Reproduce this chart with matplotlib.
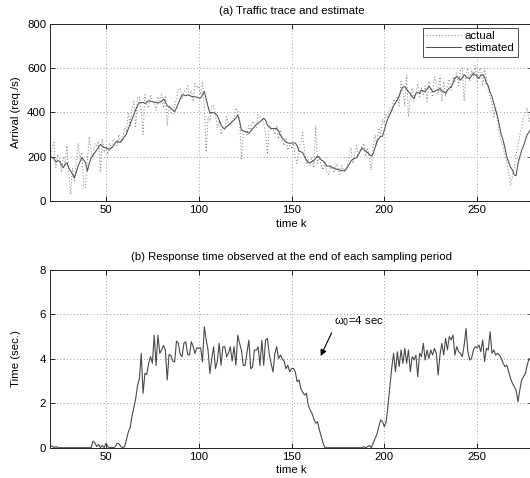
import numpy as np
import matplotlib
matplotlib.use("Agg")
import matplotlib.pyplot as plt

plt.rcParams['font.family'] = ['Liberation Sans', 'DejaVu Sans']
plt.rcParams['font.size'] = 8.2

# ---------------- data ----------------
k_start = 20
k_end = 280

actual = [
    180, 240, 265, 150, 210, 190, 130, 200, 160, 250,   # 20-29
    120, 30, 150, 90, 175, 260, 190, 220, 70, 60,       # 30-39
    180, 290, 220, 200, 260, 250, 270, 130, 280, 220,   # 40-49
    250, 210, 260, 240, 280, 270, 250, 300, 260, 290,   # 50-59
    330, 310, 400, 340, 420, 450, 330, 470, 470, 400,   # 60-69
    300, 480, 430, 420, 480, 450, 440, 410, 470, 450,   # 70-79
    480, 420, 470, 340, 430, 400, 390, 430, 460, 500,   # 80-89
    510, 460, 490, 500, 520, 470, 500, 450, 530, 510,   # 90-99
    520, 480, 540, 420, 220, 380, 360, 430, 430, 390,   # 100-109
    330, 360, 300, 330, 320, 380, 340, 340, 360, 380,   # 110-119
    420, 410, 370, 190, 300, 320, 300, 340, 320, 360,   # 120-129
    350, 330, 390, 380, 370, 350, 300, 210, 340, 320,   # 130-139
    330, 300, 340, 280, 320, 270, 250, 280, 230, 250,   # 140-149
    240, 260, 200, 170, 240, 260, 310, 220, 170, 190,   # 150-159
    160, 200, 150, 340, 170, 200, 160, 140, 180, 130,   # 160-169
    120, 160, 140, 130, 170, 150, 120, 160, 140, 130,   # 170-179
    160, 190, 240, 170, 210, 250, 200, 230, 250, 260,   # 180-189
    200, 240, 190, 140, 250, 300, 250, 330, 300, 370,   # 190-199
    350, 390, 380, 420, 410, 460, 440, 470, 430, 540,   # 200-209
    500, 430, 570, 380, 470, 510, 450, 480, 530, 470,   # 210-219
    510, 480, 520, 450, 540, 500, 470, 560, 530, 480,   # 220-229
    560, 450, 540, 470, 520, 550, 500, 560, 540, 580,   # 230-239
    520, 590, 600, 450, 570, 600, 540, 590, 560, 610,   # 240-249
    540, 590, 600, 520, 600, 560, 500, 470, 440, 380,   # 250-259
    420, 360, 300, 270, 250, 200, 180, 130, 70, 110,    # 260-269
    150, 210, 250, 300, 330, 380, 400, 420, 360, 390,   # 270-279
    380,                                                # 280
]

estimated = [
    202, 196, 190, 176, 182, 180, 165, 150, 165, 172,   # 20-29
    148, 135, 120, 105, 130, 158, 178, 195, 185, 172,   # 30-39
    135, 170, 195, 208, 218, 230, 241, 256, 248, 241,   # 40-49
    240, 236, 233, 240, 248, 262, 271, 264, 268, 279,   # 50-59
    290, 301, 325, 347, 370, 392, 412, 430, 445, 443,   # 60-69
    445, 440, 445, 453, 450, 448, 446, 445, 442, 445,   # 70-79
    450, 460, 448, 430, 425, 418, 410, 403, 420, 441,   # 80-89
    460, 479, 478, 475, 479, 476, 472, 471, 470, 468,   # 90-99
    465, 464, 480, 494, 460, 426, 395, 400, 398, 395,   # 100-109
    385, 365, 345, 330, 327, 335, 342, 350, 358, 365,   # 110-119
    375, 388, 360, 320, 316, 312, 310, 305, 315, 325,   # 120-129
    335, 345, 352, 358, 365, 373, 365, 342, 335, 327,   # 130-139
    327, 327, 327, 315, 297, 285, 275, 267, 262, 260,   # 140-149
    262, 262, 262, 250, 225, 222, 218, 200, 185, 173,   # 150-159
    173, 178, 181, 192, 203, 195, 185, 181, 170, 158,   # 160-169
    158, 155, 151, 148, 144, 142, 140, 138, 136, 140,   # 170-179
    151, 165, 180, 188, 192, 196, 210, 225, 240, 232,   # 180-189
    225, 218, 210, 203, 215, 240, 270, 280, 292, 292,   # 190-199
    320, 350, 373, 390, 410, 430, 445, 455, 475, 499,   # 200-209
    514, 516, 505, 493, 484, 470, 463, 486, 490, 486,   # 210-219
    501, 496, 494, 505, 517, 508, 494, 493, 500, 501,   # 220-229
    508, 495, 493, 486, 500, 509, 516, 530, 555, 561,   # 230-239
    555, 546, 555, 570, 560, 555, 553, 565, 576, 570,   # 240-249
    562, 553, 568, 570, 560, 531, 520, 490, 471, 440,   # 250-259
    410, 380, 340, 300, 274, 240, 198, 175, 153, 140,   # 260-269
    117, 115, 168, 200, 229, 250, 274, 300, 312, 327,   # 270-279
    340,                                                # 280
]

response = [
    0.05, 0.08, 0.0, 0.05, 0.0, 0.0, 0.0, 0.0, 0.0, 0.0,          # 20-29
    0.0, 0.0, 0.0, 0.0, 0.0, 0.0, 0.0, 0.0, 0.0, 0.0,             # 30-39
    0.0, 0.0, 0.0, 0.3, 0.22, 0.05, 0.15, 0.0, 0.1, 0.0,          # 40-49
    0.2, 0.05, 0.0, 0.02, 0.0, 0.05, 0.2, 0.18, 0.05, 0.0,        # 50-59
    0.05, 0.35, 0.7, 0.9, 1.4, 1.8, 2.2, 2.8, 3.1, 4.25,          # 60-69
    2.45, 3.35, 3.3, 3.8, 4.1, 3.8, 5.07, 3.7, 5.07, 4.25,        # 70-79
    4.4, 4.6, 4.4, 3.05, 4.2, 4.15, 3.9, 3.86, 4.8, 4.7,          # 80-89
    4.2, 4.1, 4.7, 4.77, 4.2, 4.17, 4.77, 4.55, 4.24, 4.5,        # 90-99
    4.47, 4.5, 3.86, 5.44, 4.85, 4.4, 3.34, 4.0, 4.54, 3.56,      # 100-109
    3.9, 4.7, 3.71, 4.54, 4.55, 4.09, 4.25, 4.54, 3.9, 4.55,      # 110-119
    3.71, 5.07, 4.7, 4.39, 3.7, 3.71, 4.3, 4.84, 3.55, 3.64,      # 120-129
    4.4, 4.39, 4.54, 3.7, 4.84, 3.71, 4.85, 4.92, 4.2, 3.79,      # 130-139
    3.41, 4.24, 4.55, 4.01, 4.17, 4.0, 3.9, 3.56, 3.71, 3.42,     # 140-149
    3.56, 3.57, 3.42, 2.97, 3.05, 2.67, 2.5, 2.37, 2.45, 1.92,    # 150-159
    1.7, 1.55, 1.3, 1.1, 1.17, 0.8, 0.5, 0.2, 0.0, 0.0,           # 160-169
    0.0, 0.0, 0.0, 0.0, 0.0, 0.0, 0.0, 0.0, 0.0, 0.0,             # 170-179
    0.0, 0.0, 0.0, 0.0, 0.0, 0.0, 0.0, 0.0, 0.0, 0.05,            # 180-189
    0.0, 0.05, 0.1, 0.0, 0.2, 0.42, 0.6, 0.95, 1.25, 1.17,        # 190-199
    0.95, 1.17, 1.92, 2.75, 3.6, 4.25, 3.42, 4.32, 3.65, 4.4,     # 200-209
    3.8, 4.47, 3.8, 4.4, 3.42, 4.1, 3.95, 4.17, 3.2, 4.25,        # 210-219
    4.1, 4.7, 3.95, 4.4, 4.02, 4.4, 4.17, 4.47, 4.25, 3.27,       # 220-229
    4.2, 4.7, 4.17, 4.92, 4.4, 5.0, 4.85, 5.07, 4.17, 4.55,       # 230-239
    4.32, 4.25, 4.1, 4.6, 5.37, 4.32, 3.95, 4.02, 4.4, 4.55,      # 240-249
    4.5, 4.62, 4.32, 4.85, 3.87, 4.47, 4.4, 5.22, 4.25, 4.4,      # 250-259
    4.17, 4.25, 4.17, 4.02, 3.8, 3.65, 3.72, 3.42, 3.12, 2.9,     # 260-269
    2.75, 2.6, 2.07, 2.6, 3.05, 3.2, 3.35, 3.72, 4.02, 3.9,       # 270-279
    4.1,                                                          # 280
]

x_ticks = [50, 100, 150, 200, 250]
top_yticks = [0, 200, 400, 600, 800]
bot_yticks = [0, 2, 4, 6, 8]
legend_labels = ["actual", "estimated"]
title_a = "(a) Traffic trace and estimate"
title_b = "(b) Response time observed at the end of each sampling period"
annot_text = "ω$_0$=4 sec"
annot_head = (165.7, 4.13)
annot_tail = (171.6, 5.17)
annot_pos = (173.0, 5.72)

k_a = np.arange(k_start, k_start + len(actual))
k_e = np.arange(k_start, k_start + len(estimated))
k_r = np.arange(k_start, k_start + len(response))

# ---------------- figure ----------------
W, H = 530, 478
fig = plt.figure(figsize=(W / 100, H / 100), dpi=100)

left = 50.3 / W
width = (532.8 - 50.3) / W
ax1 = fig.add_axes([left, 1 - 201.0 / H, width, 177.3 / H])
ax2 = fig.add_axes([left, 1 - 447.7 / H, width, 177.7 / H])


def style(ax):
    ax.set_xlim(k_start, k_end)
    ax.set_xticks(x_ticks)
    ax.tick_params(direction='in', length=3.5, width=0.6, top=True, right=True,
                   labelsize=8.2, pad=3, colors='k')
    ax.grid(True, linestyle=(0, (1, 3)), color='#808080', linewidth=0.6)
    for s in ax.spines.values():
        s.set_linewidth(0.7)
        s.set_color('#222222')
    ax.set_axisbelow(True)


# top
ax1.plot(k_a, actual, linestyle=(0, (1, 2)), color='#8a8a8a', linewidth=0.75, label=legend_labels[0])
ax1.plot(k_e, estimated, linestyle='-', color='#505050', linewidth=0.75, label=legend_labels[1])
ax1.set_ylim(0, 800)
ax1.set_yticks(top_yticks)
style(ax1)
ax1.set_title(title_a, fontsize=8.2, pad=7)
ax1.set_xlabel("time k", fontsize=8.2)
ax1.set_ylabel("Arrival (req./s)", fontsize=8.2)
ax1.xaxis.set_label_coords(0.5, -0.1)
ax1.yaxis.set_label_coords(-0.06, 0.5)
leg = ax1.legend(loc='upper right', bbox_to_anchor=(0.9693, 0.9757), borderaxespad=0,
                 fontsize=8.2, frameon=True, fancybox=False, handlelength=3.1,
                 handletextpad=0.3, borderpad=0.3, labelspacing=0.15)
leg.get_frame().set_edgecolor('#222222')
leg.get_frame().set_linewidth(0.7)

# bottom
ax2.plot(k_r, response, linestyle='-', color='#4a4a4a', linewidth=0.8)
ax2.set_ylim(0, 8)
ax2.set_yticks(bot_yticks)
style(ax2)
ax2.set_title(title_b, fontsize=8.2, pad=7)
ax2.set_xlabel("time k", fontsize=8.2)
ax2.set_ylabel("Time (sec.)", fontsize=8.2)
ax2.xaxis.set_label_coords(0.5, -0.1)
ax2.yaxis.set_label_coords(-0.06, 0.5)
ax2.annotate('', xy=annot_head, xytext=annot_tail,
             arrowprops=dict(arrowstyle='-|>', color='k', lw=0.8, mutation_scale=9,
                             shrinkA=0, shrinkB=0))
ax2.text(annot_pos[0], annot_pos[1], annot_text, fontsize=8.2, va='center', ha='left')

fig.savefig("out.png", dpi=100)
